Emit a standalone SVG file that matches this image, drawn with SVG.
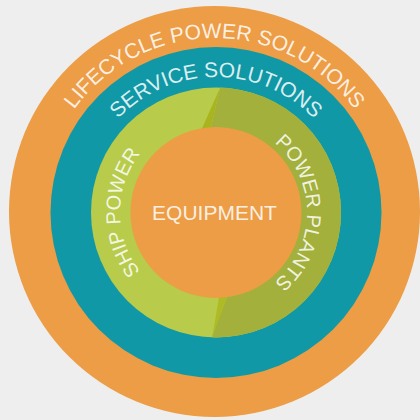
<svg xmlns="http://www.w3.org/2000/svg" width="420" height="420" viewBox="0 0 420 420">
  <style>
    .lbl { font-family: "Liberation Sans", Arial, sans-serif; fill: #ffffff; fill-opacity: 0.86; }
    .big { font-size: 21px; }
    .mid { font-size: 20px; }
  </style>
  <defs>
    <clipPath id="greenClip"><circle cx="216" cy="212.5" r="125"/></clipPath>
    <path id="arcOuter" d="M 41,211.5 A 173.5 173.5 0 0 1 388,211.5"/>
    <path id="arcService" d="M 80.5,212.5 A 135.5 135.5 0 0 1 351.5,212.5"/>
    <path id="arcShip" d="M 216,308.5 A 96 96 0 0 1 216,116.5"/>
    <path id="arcPlants" d="M 216,121.5 A 91 91 0 0 1 216,303.5"/>
  </defs>
  <rect x="0" y="0" width="420" height="420" fill="#eeeeee"/>

  <g id="lifecycle">
    <circle cx="214.5" cy="211.5" r="205.5" fill="#ec9d45"/>
    <text class="lbl big"><textPath href="#arcOuter" startOffset="50%" text-anchor="middle">LIFECYCLE POWER SOLUTIONS</textPath></text>
  </g>

  <g id="service">
    <circle cx="216" cy="212.5" r="165.5" fill="#1198a6"/>
    <text class="lbl big"><textPath href="#arcService" startOffset="50%" text-anchor="middle">SERVICE SOLUTIONS</textPath></text>
  </g>

  <g id="green-ring" clip-path="url(#greenClip)">
    <rect x="80" y="80" width="280" height="270" fill="#b8cb4b"/>
    <polygon points="220,80 220,88 209.2,135 216,212 229.7,290 212.5,335 212.5,345 350,345 350,80" fill="#a3b03c"/>
    <polygon points="220,88 199.1,135 209.2,135" fill="#a8b51e"/>
    <polygon points="212.5,336 220.2,290 229.7,290" fill="#aebb24"/>
  </g>

  <g id="ship-power">
    <text class="lbl mid"><textPath href="#arcShip" startOffset="50%" text-anchor="middle">SHIP POWER</textPath></text>
  </g>

  <g id="power-plants">
    <text class="lbl mid"><textPath href="#arcPlants" startOffset="50%" text-anchor="middle">POWER PLANTS</textPath></text>
  </g>

  <g id="equipment">
    <circle cx="216" cy="212.5" r="85.5" fill="#ec9d45"/>
    <text class="lbl big" x="214.5" y="220" text-anchor="middle">EQUIPMENT</text>
  </g>
</svg>
